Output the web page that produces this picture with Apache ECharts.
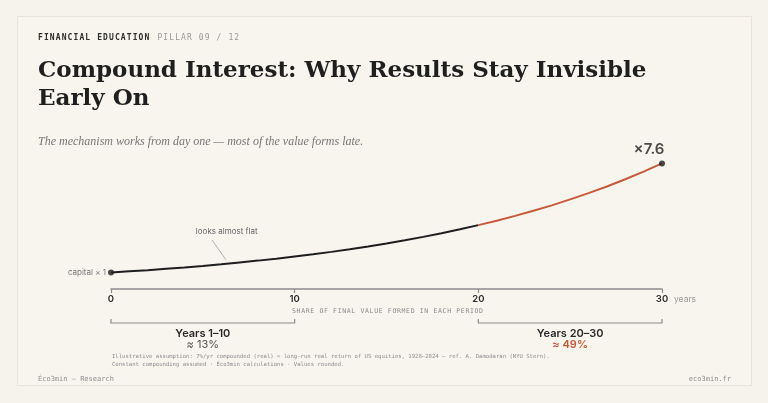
<!DOCTYPE html>
<html>
<head>
<meta charset="utf-8">
<script src="https://cdn.jsdelivr.net/npm/echarts/dist/echarts.min.js"></script>
<style>
    html, body { margin: 0; padding: 0; background: #f6f3ed; }
    #wrap { position: relative; width: 768px; height: 403px; overflow: hidden; }
    #card { position: absolute; left: 17px; top: 16px; width: 735px; height: 370px;
            border: 1px solid #e8e4da; background: #f8f5ef; box-sizing: border-box; }
    #chart { position: absolute; left: 0; top: 0; width: 768px; height: 403px; }
    .txt { position: absolute; white-space: nowrap; }
    .kicker { left: 38px; top: 33px; font: bold 8px "DejaVu Sans Mono", monospace; letter-spacing: 1.1px; color: #2e2e2e; }
    .kicker span { font-weight: normal; color: #999; margin-left: 7px; }
    .title { left: 38px; top: 55px; font: bold 23px/28.3px "DejaVu Serif", serif; color: #1f1f1f; }
    .sub { left: 38px; top: 134px; font: italic 12px "Liberation Serif", serif; color: #777; }
    .axisnote { left: 292px; top: 307px; font: 6.5px "DejaVu Sans Mono", monospace; letter-spacing: 0.65px; color: #8a8a8a; }
    .foot { left: 112px; font: 5.6px/7.5px "DejaVu Sans Mono", monospace; color: #8d8d8d; }
    .brand { top: 375px; font: 7px "DejaVu Sans Mono", monospace; color: #8d8d8d; }
</style>
</head>
<body>
<div id="wrap">
    <div id="card"></div>
    <div id="chart"></div>
    <div class="txt kicker">FINANCIAL EDUCATION<span>PILLAR 09 / 12</span></div>
    <div class="txt title">Compound Interest: Why Results Stay Invisible<br>Early On</div>
    <div class="txt sub">The mechanism works from day one — most of the value forms late.</div>
    <div class="txt axisnote">SHARE OF FINAL VALUE FORMED IN EACH PERIOD</div>
    <div class="txt foot" style="top:353px">Illustrative assumption: 7%/yr compounded (real) ≈ long-run real return of US equities, 1928–2024 – ref. A. Damodaran (NYU Stern).<br>Constant compounding assumed · Éco3min calculations · Values rounded.</div>
    <div class="txt brand" style="left:38px">Éco3min — Research</div>
    <div class="txt brand" style="right:37px">eco3min.fr</div>
</div>

<script type="text/javascript">
    // years and capital multiple
    var years = [0, 1, 2, 3, 4, 5, 6, 7, 8, 9, 10, 11, 12, 13, 14, 15, 16, 17, 18, 19, 20,
                 21, 22, 23, 24, 25, 26, 27, 28, 29, 30];
    var growth = [1.00, 1.07, 1.14, 1.23, 1.31, 1.40, 1.50, 1.61, 1.72, 1.84, 1.97,
                  2.10, 2.25, 2.41, 2.58, 2.76, 2.95, 3.16, 3.38, 3.62, 3.87,
                  4.14, 4.43, 4.74, 5.07, 5.43, 5.81, 6.21, 6.65, 7.11, 7.61];
    var splitYear = 20;
    var xTicks = [0, 10, 20, 30];
    var periodNames = ['Years 1–10', 'Years 20–30'];
    var periodShares = ['≈ 13%', '≈ 49%'];
    var periodRanges = [[0, 10], [20, 30]];

    var ink = '#1e1e1e';
    var rust = '#c65a3a';

    var early = [], late = [];
    for (var i = 0; i < years.length; i++) {
        if (years[i] <= splitYear) early.push([years[i], growth[i]]);
        if (years[i] >= splitYear) late.push([years[i], growth[i]]);
    }
    var last = growth.length - 1;

    var chart = echarts.init(document.getElementById('chart'), null, {renderer: 'canvas'});
    var sans = 'Inter, Roboto, sans-serif';

    chart.setOption({
        animation: false,
        grid: {left: 111, right: 106, top: 157, bottom: 114},
        xAxis: {
            type: 'value', min: xTicks[0], max: xTicks[xTicks.length - 1], interval: 10,
            axisLine: {lineStyle: {color: '#8c8c8c', width: 1.5}},
            axisTick: {length: 4, lineStyle: {color: '#8c8c8c', width: 1.2}},
            axisLabel: {color: '#2a2a2a', fontSize: 9.5, fontWeight: 600, fontFamily: sans, margin: 5},
            splitLine: {show: false},
            name: 'years', nameLocation: 'end', nameGap: 12,
            nameTextStyle: {color: '#999', fontSize: 8.5, fontFamily: sans, verticalAlign: 'top', padding: [6, 0, 0, 0]}
        },
        yAxis: {type: 'value', min: 0, max: 8, show: false},
        series: [
            {
                type: 'line', data: early, showSymbol: false, z: 3,
                lineStyle: {color: ink, width: 2},
                markLine: {
                    silent: true, symbol: 'none',
                    lineStyle: {color: '#9a9a9a', width: 0.8, type: 'solid'},
                    label: {show: false},
                    data: [[{coord: [5.5, 2.97]}, {coord: [6.25, 1.78]}]]
                },
                markPoint: {
                    silent: true, symbol: 'circle', symbolSize: 0,
                    label: {show: true, formatter: 'looks almost flat', color: '#666', fontSize: 8, fontFamily: sans},
                    data: [{coord: [6.3, 3.45]}]
                }
            },
            {
                type: 'line', data: late, showSymbol: false, z: 3,
                lineStyle: {color: rust, width: 2}
            },
            {
                type: 'scatter', symbolSize: 6, z: 4,
                itemStyle: {color: ink},
                data: [
                    {value: [years[0], growth[0]],
                     label: {show: true, position: 'left', distance: 2, formatter: 'capital × 1',
                             color: '#555', fontSize: 8, fontFamily: sans}},
                    {value: [years[last], growth[last]],
                     label: {show: true, position: 'top', distance: 3, offset: [-13, 0], formatter: '×7.6',
                             color: '#1e1e1e', fontSize: 15, fontWeight: 600, fontFamily: sans}}
                ]
            }
        ]
    });

    // brackets under the axis for the two periods
    var gfx = [];
    var by = 323;
    for (var p = 0; p < periodRanges.length; p++) {
        var a = chart.convertToPixel({xAxisIndex: 0}, periodRanges[p][0]);
        var b = chart.convertToPixel({xAxisIndex: 0}, periodRanges[p][1]);
        var mid = (a + b) / 2;
        gfx.push({
            type: 'polyline', silent: true,
            shape: {points: [[a, by - 4], [a, by], [b, by], [b, by - 4]]},
            style: {stroke: '#8c8c8c', lineWidth: 1.2, fill: null}
        });
        gfx.push({
            type: 'text', x: mid, y: 334, silent: true,
            style: {text: periodNames[p], textAlign: 'center', textVerticalAlign: 'middle',
                    fill: '#2a2a2a', font: '600 11px ' + sans}
        });
        gfx.push({
            type: 'text', x: mid, y: 345, silent: true,
            style: {text: periodShares[p], textAlign: 'center', textVerticalAlign: 'middle',
                    fill: p === 1 ? rust : '#555', font: (p === 1 ? '600 ' : '400 ') + '11px ' + sans}
        });
    }
    chart.setOption({graphic: gfx});
</script>
</body>
</html>
